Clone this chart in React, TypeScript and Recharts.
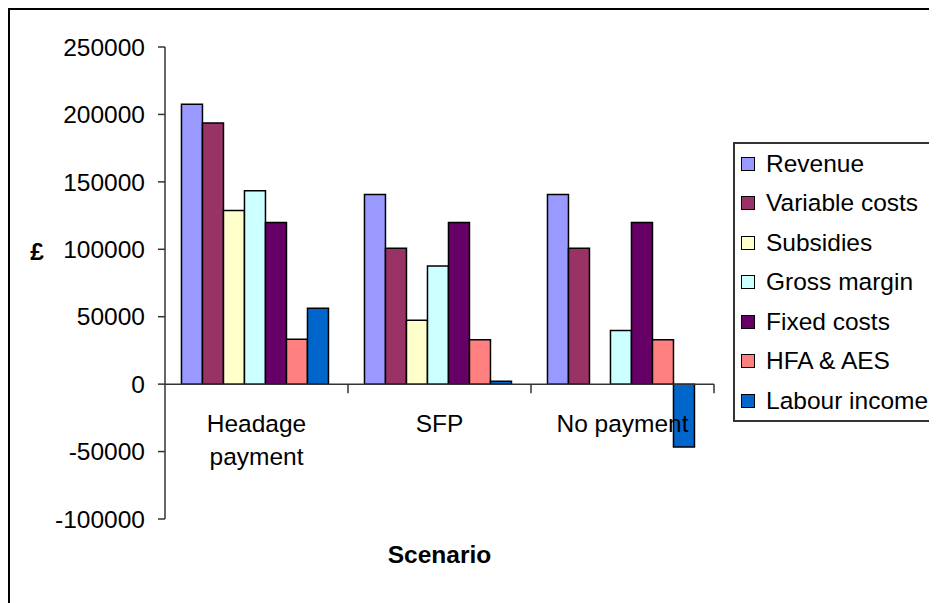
import React from "react";
import { BarChart, Bar, XAxis, YAxis, ReferenceLine } from "recharts";

const scenarios = ["Headage payment", "SFP", "No payment"];
const scenarioLines = [["Headage", "payment"], ["SFP"], ["No payment"]];

const revenue = [207600, 140600, 140600];
const variableCosts = [193700, 100700, 100700];
const subsidies = [128700, 47400, 0];
const grossMargin = [143400, 87600, 39700];
const fixedCosts = [119800, 119800, 119800];
const hfaAes = [33200, 33000, 33000];
const labourIncome = [56300, 2200, -46600];

const yTicks = [-100000, -50000, 0, 50000, 100000, 150000, 200000, 250000];

const SERIES = [
  { key: "revenue", name: "Revenue", color: "#9999FF", values: revenue },
  { key: "variable", name: "Variable costs", color: "#993366", values: variableCosts },
  { key: "subsidies", name: "Subsidies", color: "#FFFFCC", values: subsidies },
  { key: "gross", name: "Gross margin", color: "#CCFFFF", values: grossMargin },
  { key: "fixed", name: "Fixed costs", color: "#660066", values: fixedCosts },
  { key: "hfa", name: "HFA & AES", color: "#FF8080", values: hfaAes },
  { key: "labour", name: "Labour income", color: "#0066CC", values: labourIncome },
];

const data = scenarios.map((s, i) => {
  const row: Record<string, any> = { scenario: s, idx: i };
  SERIES.forEach((sr) => (row[sr.key] = sr.values[i]));
  return row;
});

const W = 927;
const H = 593;
const M = { top: 37, right: 223, left: 0, bottom: 54 };
const Y_AXIS_W = 155;
const X_AXIS_H = 30;
const PLOT_TOP = M.top;
const PLOT_H = H - M.top - M.bottom - X_AXIS_H;
const PLOT_W = W - M.right - Y_AXIS_W;
const ZERO_Y = PLOT_TOP + (PLOT_H * 250000) / 350000;
const BAND = PLOT_W / scenarios.length;
const FONT = "'Liberation Sans', Arial, sans-serif";
const FS = 24.5;

function CategoryTick(props: any) {
  const { x, index } = props;
  const lines = scenarioLines[index] || [];
  return (
    <g>
      <line x1={x + BAND / 2} x2={x + BAND / 2} y1={ZERO_Y} y2={ZERO_Y + 9} stroke="#333" strokeWidth={1.5} />
      {lines.map((ln, i) => (
        <text
          key={i}
          x={x}
          y={ZERO_Y + 48 + i * 33}
          textAnchor="middle"
          fontFamily={FONT}
          fontSize={FS}
          fill="#000"
        >
          {ln}
        </text>
      ))}
    </g>
  );
}

function LegendBox() {
  return (
    <div
      style={{
        position: "absolute",
        left: 723,
        top: 132,
        border: "2px solid #333",
        borderRight: "none",
        width: 215,
        height: 280,
        boxSizing: "border-box",
        background: "#fff",
        fontFamily: FONT,
        fontSize: FS,
      }}
    >
      {SERIES.map((s) => (
        <div key={s.key} style={{ display: "flex", alignItems: "center", height: 39.5 }}>
          <div
            style={{
              width: 14,
              height: 14,
              marginLeft: 6,
              marginRight: 11,
              background: s.color,
              border: "1.5px solid #000",
              boxSizing: "border-box",
            }}
          />
          <span style={{ whiteSpace: "nowrap" }}>{s.name}</span>
        </div>
      ))}
    </div>
  );
}

export default function App() {
  return (
    <div
      style={{
        position: "relative",
        width: 929,
        height: 595,
        boxSizing: "border-box",
        borderTop: "2px solid #000",
        borderLeft: "2px solid #000",
        overflow: "hidden",
        background: "#fff",
      }}
    >
      <BarChart
        width={W}
        height={H}
        data={data}
        margin={M}
        barCategoryGap="9%"
        barGap={0}
      >
        <XAxis
          dataKey="scenario"
          height={X_AXIS_H}
          axisLine={false}
          tickLine={false}
          interval={0}
          tick={<CategoryTick />}
          label={{
            content: () => (
              <text
                x={Y_AXIS_W + PLOT_W / 2}
                y={553}
                textAnchor="middle"
                fontFamily={FONT}
                fontSize={FS}
                fontWeight="bold"
                fill="#000"
              >
                Scenario
              </text>
            ),
          }}
        />
        <YAxis
          width={Y_AXIS_W}
          domain={[-100000, 250000]}
          ticks={yTicks}
          interval={0}
          tickSize={7}
          tickMargin={13}
          axisLine={{ stroke: "#333", strokeWidth: 1.5 }}
          tickLine={{ stroke: "#333", strokeWidth: 1.5 }}
          tick={{ fontFamily: FONT, fontSize: FS, fill: "#000" }}
          label={{
            content: () => (
              <text x={27} y={250} textAnchor="middle" fontFamily={FONT} fontSize={FS} fontWeight="bold" fill="#000">
                £
              </text>
            ),
          }}
        />
        <ReferenceLine y={0} stroke="#333" strokeWidth={1.5} />
        {SERIES.map((s) => (
          <Bar
            key={s.key}
            dataKey={s.key}
            name={s.name}
            fill={s.color}
            stroke="#000"
            strokeWidth={1.5}
            isAnimationActive={false}
          />
        ))}
      </BarChart>
      <LegendBox />
    </div>
  );
}
